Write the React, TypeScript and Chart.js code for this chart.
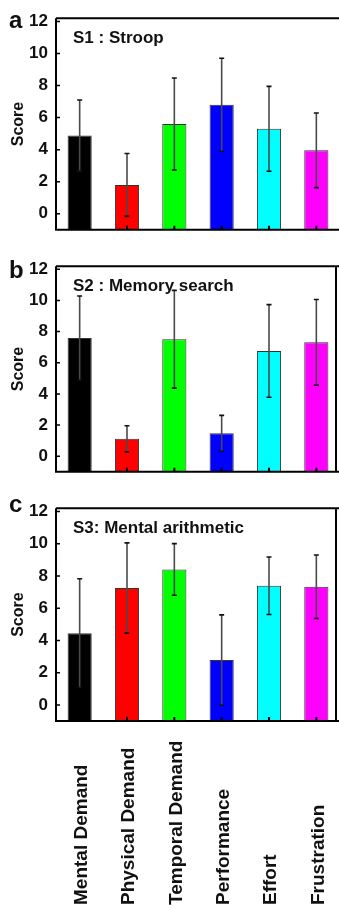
import React, { useEffect, useRef } from "react";
import { Chart, registerables } from "chart.js";

Chart.register(...registerables);

const categories = ["Mental Demand", "Physical Demand", "Temporal Demand", "Performance", "Effort", "Frustration"];
const barColors = ["#000000", "#ff0000", "#00ff00", "#0000ff", "#00ffff", "#ff00ff"];
const yTicks = [0, 2, 4, 6, 8, 10, 12];

const s1Title = "S1 : Stroop";
const s1Means = [4.88, 1.8, 5.6, 6.8, 5.3, 3.96];
const s1Errors = [2.22, 1.96, 2.87, 2.9, 2.65, 2.33];

const s2Title = "S2 : Memory search";
const s2Means = [7.59, 1.12, 7.51, 1.47, 6.76, 7.31];
const s2Errors = [2.7, 0.84, 3.14, 1.15, 2.97, 2.75];

const s3Title = "S3: Mental arithmetic";
const s3Means = [4.45, 7.25, 8.4, 2.78, 7.39, 7.33];
const s3Errors = [3.37, 2.8, 1.6, 2.8, 1.78, 1.97];

const FONT = '"Liberation Sans", Arial, Helvetica, sans-serif';
const INK = "#111111";

type PanelProps = {
  letter: string;
  title: string;
  means: number[];
  errors: number[];
  top: number;
  height: number;
  padTop: number;
  xHeight: number;
  letterBaseline: number;
  showLabels: boolean;
  rightBorder: boolean;
};

function Panel(p: PanelProps) {
  const ref = useRef<HTMLCanvasElement | null>(null);
  useEffect(() => {
    if (!ref.current) return;
    const decor = {
      id: "panelDecor",
      afterDatasetsDraw(chart: any) {
        const ctx = chart.ctx;
        const { left, right, top, bottom } = chart.chartArea;
        const xs = chart.scales.x;
        const ys = chart.scales.y;
        ctx.save();
        // error bars
        p.means.forEach((m, i) => {
          const px = xs.getPixelForValue(i);
          const yt = ys.getPixelForValue(m + p.errors[i]);
          const yb = ys.getPixelForValue(m - p.errors[i]);
          ctx.strokeStyle = "#4a4a4a";
          ctx.lineWidth = 1.6;
          ctx.beginPath();
          ctx.moveTo(px, yt);
          ctx.lineTo(px, yb);
          ctx.stroke();
          ctx.strokeStyle = "#111";
          ctx.lineWidth = 1.6;
          ctx.beginPath();
          ctx.moveTo(px - 2.5, yt);
          ctx.lineTo(px + 2.5, yt);
          ctx.moveTo(px - 2.5, yb);
          ctx.lineTo(px + 2.5, yb);
          ctx.stroke();
        });
        // frame
        ctx.strokeStyle = "#000";
        ctx.lineWidth = 2;
        ctx.beginPath();
        ctx.moveTo(left, top);
        ctx.lineTo(left, bottom);
        ctx.lineTo(right, bottom);
        ctx.moveTo(left, top);
        ctx.lineTo(right, top);
        if (p.rightBorder) {
          ctx.moveTo(336, top);
          ctx.lineTo(336, bottom);
        }
        ctx.stroke();
        // inward ticks
        ctx.lineWidth = 1.5;
        ctx.beginPath();
        yTicks.forEach((v) => {
          const py = ys.getPixelForValue(v);
          ctx.moveTo(left, py);
          ctx.lineTo(left + 4, py);
        });
        ctx.stroke();
        ctx.lineWidth = 2;
        ctx.beginPath();
        categories.forEach((_, i) => {
          const px = xs.getPixelForValue(i);
          ctx.moveTo(px, bottom);
          ctx.lineTo(px, bottom - 4);
        });
        ctx.stroke();
        // title
        ctx.fillStyle = INK;
        ctx.font = `bold 17px ${FONT}`;
        ctx.textAlign = "left";
        ctx.textBaseline = "alphabetic";
        ctx.fillText(p.title, left + 17, top + 25);
        // panel letter
        ctx.font = `bold 24px ${FONT}`;
        ctx.fillText(p.letter, 9, p.letterBaseline);
        // category labels
        if (p.showLabels) {
          ctx.font = `bold 19px ${FONT}`;
          categories.forEach((c, i) => {
            const px = xs.getPixelForValue(i);
            ctx.save();
            ctx.translate(px + 2, 905 - p.top);
            ctx.rotate(-Math.PI / 2);
            ctx.textAlign = "left";
            ctx.textBaseline = "middle";
            ctx.fillText(c, 0, 0);
            ctx.restore();
          });
        }
        ctx.restore();
      },
    };
    const chart = new Chart(ref.current, {
      type: "bar",
      data: {
        labels: categories,
        datasets: [
          {
            data: p.means,
            base: -1,
            backgroundColor: barColors,
            borderColor: "#333333",
            borderWidth: 1,
            barPercentage: 0.51,
            categoryPercentage: 1,
          },
        ],
      },
      options: {
        responsive: false,
        animation: false,
        devicePixelRatio: 1,
        layout: { padding: { top: p.padTop, right: 1, left: 0, bottom: 0 } },
        plugins: { legend: { display: false }, tooltip: { enabled: false } },
        scales: {
          x: {
            grid: { display: false },
            border: { display: false },
            ticks: { display: false },
            afterFit: (s: any) => {
              s.height = p.xHeight;
            },
          },
          y: {
            min: -1,
            max: 12.2,
            afterBuildTicks: (s: any) => {
              s.ticks = yTicks.map((v) => ({ value: v }));
            },
            grid: { display: false, drawTicks: false },
            border: { display: false },
            ticks: { padding: 8, color: INK, font: { family: FONT, size: 17, weight: "bold" } },
            title: {
              display: true,
              text: "Score",
              color: INK,
              font: { family: FONT, size: 16, weight: "bold" },
              padding: { top: 9, bottom: 0 },
            },
            afterFit: (s: any) => {
              s.width = 56;
            },
          },
        },
      },
      plugins: [decor],
    } as any);
    return () => chart.destroy();
  }, []);
  return (
    <canvas
      ref={ref}
      width={341}
      height={p.height}
      style={{ position: "absolute", left: 0, top: p.top, display: "block" }}
    />
  );
}

export default function App() {
  return (
    <div
      style={{
        position: "absolute",
        left: 0,
        top: 0,
        width: 339,
        height: 909,
        overflow: "hidden",
        background: "#fff",
      }}
    >
      <Panel letter="a" title={s1Title} means={s1Means} errors={s1Errors} top={0} height={248} padTop={15} xHeight={9} letterBaseline={28} showLabels={false} rightBorder={false} />
      <Panel letter="b" title={s2Title} means={s2Means} errors={s2Errors} top={248} height={242} padTop={10} xHeight={9} letterBaseline={30} showLabels={false} rightBorder={true} />
      <Panel letter="c" title={s3Title} means={s3Means} errors={s3Errors} top={490} height={419} padTop={8} xHeight={188} letterBaseline={22} showLabels={true} rightBorder={true} />
    </div>
  );
}
